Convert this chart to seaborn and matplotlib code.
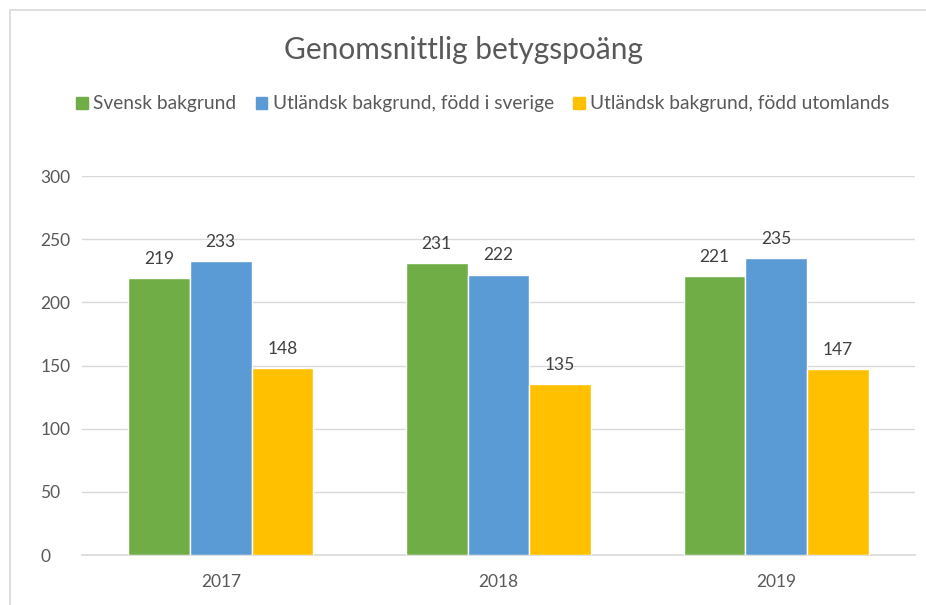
import seaborn as sns
import matplotlib.pyplot as plt
import pandas as pd
from matplotlib.patches import Rectangle

years = ["2017", "2018", "2019"]
groups = ["Svensk bakgrund", "Utländsk bakgrund, född i sverige", "Utländsk bakgrund, född utomlands"]
svensk = [219, 231, 221]
fodd_sverige = [233, 222, 235]
fodd_utomlands = [148, 135, 147]
colors = ["#70AD47", "#5B9BD5", "#FFC000"]

rows = []
for g, vals in zip(groups, [svensk, fodd_sverige, fodd_utomlands]):
    for y, v in zip(years, vals):
        rows.append({"year": y, "group": g, "value": v})
df = pd.DataFrame(rows)

sns.set_theme(style="white")
plt.rcParams['font.family'] = ['Lato', 'DejaVu Sans']
txt = "#595959"

fig = plt.figure(figsize=(9.26, 6.05), dpi=100)
fig.patches.append(Rectangle((10 / 926, -0.1), 1.1, 1 - 10 / 605 + 0.1, transform=fig.transFigure,
                             fill=False, edgecolor="#D9D9D9", linewidth=1.2))
ax = fig.add_axes([82 / 926, 50 / 605, (915 - 82) / 926, (555 - 176) / 605])

sns.barplot(data=df, x="year", y="value", hue="group", palette=colors,
            width=0.667, saturation=1, ax=ax, legend=False, zorder=3)

for c in ax.containers:
    ax.bar_label(c, padding=8, fontsize=12.5, color="#404040")

ax.set_ylim(0, 300)
ax.set_yticks(range(0, 301, 50))
ax.yaxis.grid(True, color="#D9D9D9", linewidth=1, zorder=0)
ax.set_axisbelow(True)
for s in ["left", "top", "right"]:
    ax.spines[s].set_visible(False)
ax.spines["bottom"].set_color("#D9D9D9")
ax.spines["bottom"].set_linewidth(1.2)
ax.tick_params(axis="both", length=0, labelsize=12.5, colors=txt)
ax.tick_params(axis="x", pad=14)
ax.tick_params(axis="y", pad=30)
for lab in ax.get_yticklabels():
    lab.set_horizontalalignment("left")
ax.set_xlabel("")
ax.set_ylabel("")

fig.text(0.5, 1 - 50 / 605, "Genomsnittlig betygspoäng", ha="center", va="center",
         fontsize=21.5, color=txt)

handles = [Rectangle((0, 0), 1, 1, color=c) for c in colors]
fig.legend(handles, groups, loc="center", bbox_to_anchor=(483 / 926, 1 - 104 / 605), ncol=3,
           frameon=False, fontsize=13.8, handlelength=0.6, handleheight=0.6,
           handletextpad=0.3, columnspacing=1.0, labelcolor=txt)

fig.savefig("out.png", dpi=100)
